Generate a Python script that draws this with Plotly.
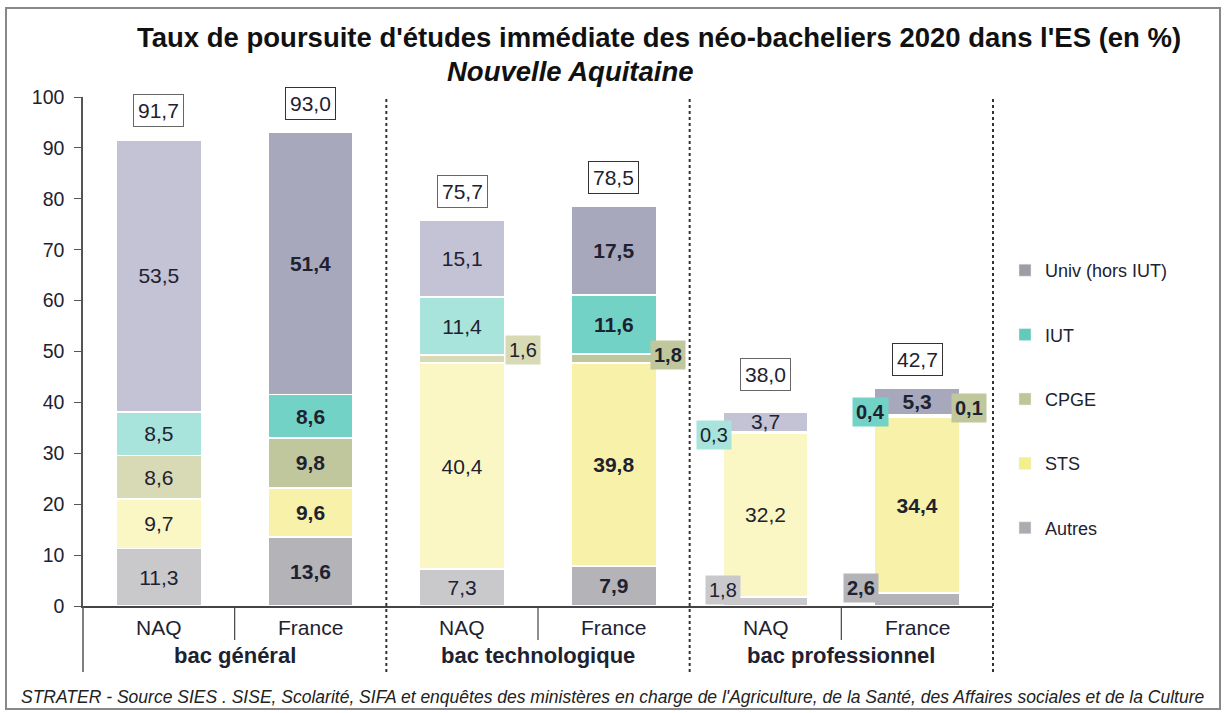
import plotly.graph_objects as go

# ---------------- data ----------------
categories = ["NAQ", "France", "NAQ", "France", "NAQ", "France"]
groups = ["bac général", "bac technologique", "bac professionnel"]
series_names = ["Autres", "STS", "CPGE", "IUT", "Univ (hors IUT)"]
autres = [11.3, 13.6, 7.3, 7.9, 1.8, 2.6]
sts = [9.7, 9.6, 40.4, 39.8, 32.2, 34.4]
cpge = [8.6, 9.8, 1.6, 1.8, 0.0, 0.1]
iut = [8.5, 8.6, 11.4, 11.6, 0.3, 0.4]
univ = [53.5, 51.4, 15.1, 17.5, 3.7, 5.3]
totals = [91.7, 93.0, 75.7, 78.5, 38.0, 42.7]
y_ticks = [0, 10, 20, 30, 40, 50, 60, 70, 80, 90, 100]

# ---------------- styles ----------------
FONT = "Liberation Sans, Arial, sans-serif"
TXT = "#1e2230"
colors_naq = {"Autres": "#c9c9cc", "STS": "#fbf7c4", "CPGE": "#d7dab5",
              "IUT": "#a8e4dc", "Univ (hors IUT)": "#c3c3d5"}
colors_fr = {"Autres": "#b3b3b8", "STS": "#f7f1aa", "CPGE": "#c0c79c",
             "IUT": "#72d2c5", "Univ (hors IUT)": "#a8a8bc"}
legend_colors = {"Univ (hors IUT)": "#9d9da3", "IUT": "#63c9b8", "CPGE": "#bfc596",
                 "STS": "#f3ef8c", "Autres": "#acacb0"}

LABEL_SIZE = 21
# labels drawn outside their segment: (bar index, series) -> (dx in category units, dy in value units)
offset_labels = {
    (2, "CPGE"): (0.40, 1.8),
    (3, "CPGE"): (0.36, 0.8),
    (4, "IUT"): (-0.34, -0.6),
    (4, "Autres"): (-0.28, 2.2),
    (4, "CPGE"): None,
    (5, "IUT"): (-0.31, 0.8),
    (5, "CPGE"): (0.34, 1.85),
    (5, "Autres"): (-0.37, 2.2),
}

L, R, T, B = 83, 993, 97, 606
W, H = 1225, 713


def px_x(p):
    return (p - L) / (R - L)


def px_y(p):
    return (B - p) / (B - T)


def fmt(v):
    return f"{v:.1f}".replace(".", ",")


x = list(range(len(categories)))
data = {"Autres": autres, "STS": sts, "CPGE": cpge, "IUT": iut, "Univ (hors IUT)": univ}

fig = go.Figure()
bases = [0.0] * len(x)
annotations = []
for name in series_names:
    vals = data[name]
    texts = []
    for i, v in enumerate(vals):
        if (i, name) in offset_labels:
            texts.append("")
        else:
            t = fmt(v)
            texts.append(f"<b>{t}</b>" if i % 2 == 1 else t)
    cols = [colors_fr[name] if i % 2 == 1 else colors_naq[name] for i in x]
    fig.add_trace(go.Bar(
        x=x, y=vals, name=name, showlegend=False,
        marker=dict(color=cols, line=dict(color="white", width=1.5)),
        text=texts, textposition="inside", insidetextanchor="middle",
        textangle=0, constraintext="none",
        textfont=dict(size=LABEL_SIZE, color=TXT, family=FONT),
        width=0.56, hoverinfo="skip",
    ))
    for i, v in enumerate(vals):
        key = (i, name)
        if key in offset_labels and offset_labels[key] is not None:
            dx, dy = offset_labels[key]
            t = fmt(v)
            annotations.append(dict(
                x=i + dx, y=bases[i] + v / 2 + dy, xref="x", yref="y",
                xanchor="center", yanchor="middle",
                text=f"<b>{t}</b>" if i % 2 == 1 else t, showarrow=False,
                font=dict(size=LABEL_SIZE - 1, color=TXT, family=FONT),
                bgcolor=cols[i], borderpad=3,
            ))
    bases = [b + v for b, v in zip(bases, vals)]

# legend-only traces (top to bottom)
for name in ["Univ (hors IUT)", "IUT", "CPGE", "STS", "Autres"]:
    fig.add_trace(go.Bar(x=[None], y=[None], name=name, legendgroup=name,
                         marker=dict(color=legend_colors[name]), showlegend=True))

# total boxes
for i, tot in enumerate(totals):
    annotations.append(dict(
        x=i, y=tot, xref="x", yref="y", yshift=38 if i == 4 else 29,
        xanchor="center", yanchor="middle",
        text=fmt(tot), showarrow=False,
        font=dict(size=LABEL_SIZE, color=TXT, family=FONT),
        bgcolor="white", bordercolor="#333" if i % 2 == 1 else "#666",
        borderwidth=1, borderpad=4,
    ))

# category labels
for i, c in enumerate(categories):
    annotations.append(dict(x=i, y=px_y(627), xref="x", yref="paper", text=c,
                            xanchor="center", yanchor="middle",
                            showarrow=False, font=dict(size=21, color=TXT, family=FONT)))
for g, gname in enumerate(groups):
    annotations.append(dict(x=2 * g + 0.5, y=px_y(655), xref="x", yref="paper",
                            xanchor="center", yanchor="middle",
                            text=f"<b>{gname}</b>", showarrow=False,
                            font=dict(size=22, color=TXT, family=FONT)))

# titles & footer
annotations.append(dict(x=px_x(659), y=px_y(37), xref="paper", yref="paper",
                        xanchor="center", yanchor="middle",
                        text="<b>Taux de poursuite d'études immédiate des néo-bacheliers 2020 dans l'ES (en %)</b>",
                        showarrow=False, font=dict(size=27.5, color="#111", family=FONT)))
annotations.append(dict(x=px_x(570), y=px_y(72), xref="paper", yref="paper",
                        xanchor="center", yanchor="middle",
                        text="<b><i>Nouvelle Aquitaine</i></b>",
                        showarrow=False, font=dict(size=27.5, color="#111", family=FONT)))
annotations.append(dict(x=px_x(612), y=px_y(697), xref="paper", yref="paper",
                        xanchor="center", yanchor="middle",
                        text="<i>STRATER - Source SIES . SISE, Scolarité, SIFA et enquêtes des ministères en charge de l'Agriculture, de la Santé, des Affaires sociales et de la Culture</i>",
                        showarrow=False, font=dict(size=17.5, color="#222", family=FONT)))

shapes = []
# dotted group separators
for xv in [1.5, 3.5, 5.5]:
    xp = (xv + 0.5) / 6
    shapes.append(dict(type="line", xref="paper", yref="paper", x0=xp, x1=xp,
                       y0=px_y(672), y1=px_y(98), line=dict(color="#333", width=2, dash="dot")))
# solid sub separators below axis
for xv in [0.5, 2.5, 4.5]:
    xp = (xv + 0.5) / 6
    shapes.append(dict(type="line", xref="paper", yref="paper", x0=xp, x1=xp,
                       y0=px_y(640), y1=0, line=dict(color="#444", width=1.2)))
# y axis extension below
shapes.append(dict(type="line", xref="paper", yref="paper", x0=0, x1=0,
                   y0=px_y(672), y1=0, line=dict(color="#555", width=1.5)))
# outer frame
shapes.append(dict(type="rect", xref="paper", yref="paper",
                   x0=px_x(6), x1=px_x(1220), y0=px_y(709), y1=px_y(8),
                   line=dict(color="#888", width=2)))

fig.update_layout(
    barmode="stack",
    width=W, height=H,
    margin=dict(l=L, r=W - R, t=T, b=H - B),
    paper_bgcolor="white", plot_bgcolor="white",
    font=dict(family=FONT, color=TXT),
    showlegend=True,
    legend=dict(x=px_x(1005), y=px_y(252), xanchor="left", yanchor="top",
                traceorder="grouped", tracegroupgap=38,
                font=dict(size=18, color=TXT, family=FONT),
                bgcolor="rgba(0,0,0,0)"),
    xaxis=dict(range=[-0.5, 5.5], showticklabels=False, showgrid=False, zeroline=False,
               showline=True, linecolor="#444", linewidth=1.5, ticks=""),
    yaxis=dict(range=[0, 100], tickvals=y_ticks, showgrid=False, zeroline=False,
               showline=True, linecolor="#555", linewidth=1.5, ticks="outside",
               ticklen=7, tickcolor="#555", ticklabelstandoff=6,
               tickfont=dict(size=19.5, color=TXT, family=FONT)),
    annotations=annotations,
    shapes=shapes,
)

fig.write_html("out.html", config={"displayModeBar": False},
               post_script="document.body.style.margin='0';document.body.style.padding='0';")
